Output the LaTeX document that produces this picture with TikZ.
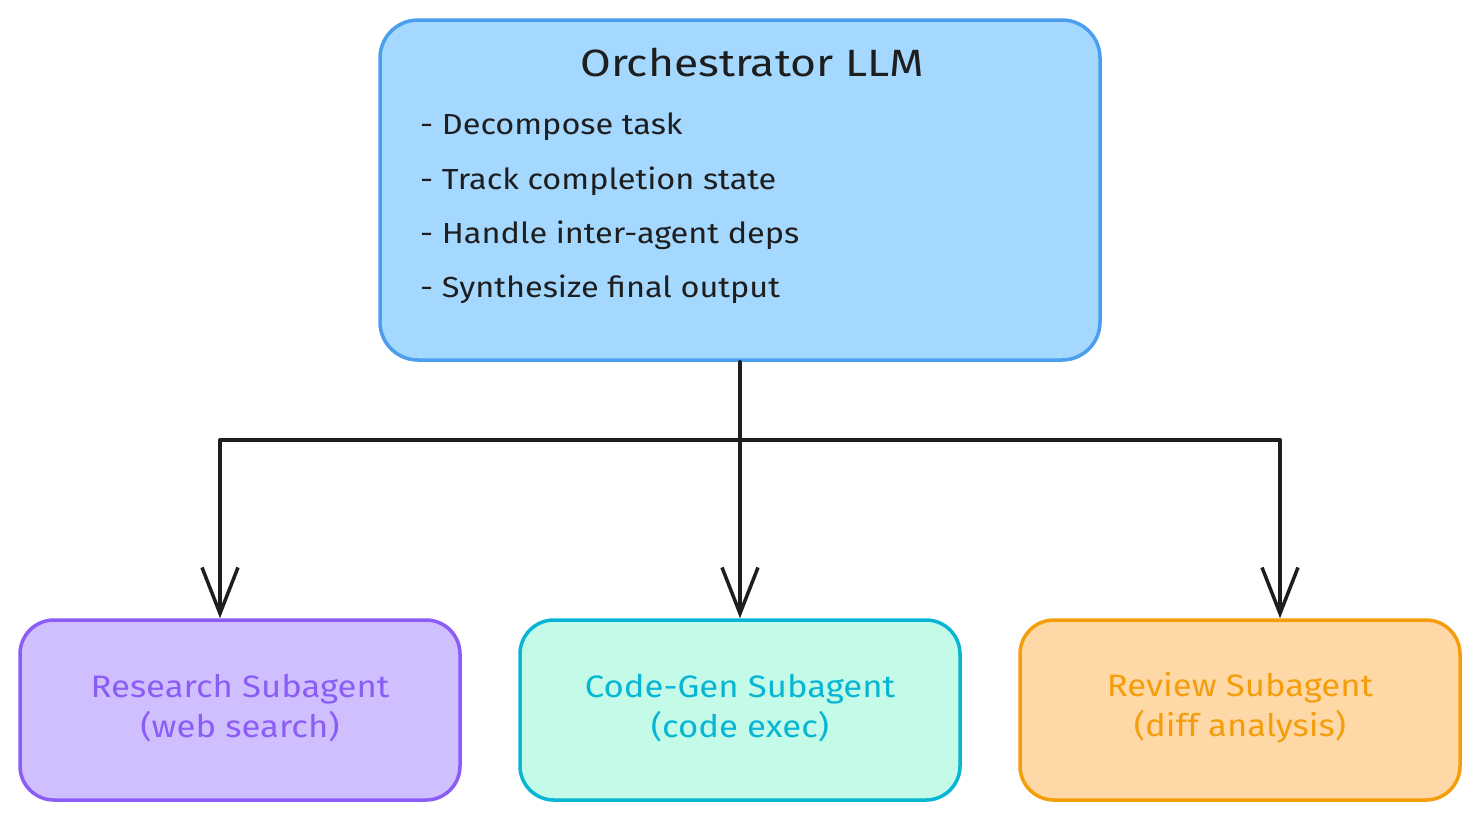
\documentclass[tikz,border=0pt]{standalone}
\usepackage{fontspec}
\setmainfont{Fira Sans}
\newfontfamily\widefont[FakeStretch=1.12]{Fira Sans}
\newfontfamily\titlefont[FakeStretch=1.17]{Fira Sans}
\usetikzlibrary{arrows.meta}
\definecolor{orchfill}{HTML}{A5D8FF}
\definecolor{orchline}{HTML}{4A9EED}
\definecolor{resfill}{HTML}{D0BFFF}
\definecolor{resline}{HTML}{8B5CF6}
\definecolor{codefill}{HTML}{C3FAE8}
\definecolor{codeline}{HTML}{06B6D4}
\definecolor{revfill}{HTML}{FFD8A8}
\definecolor{revline}{HTML}{F59E0B}
\definecolor{ink}{HTML}{1E1E1E}
\tikzset{
  box/.style={draw, line width=3.5pt, rounded corners=38pt, inner sep=0pt},
  bigbox/.style={box, minimum width=720pt, minimum height=340pt},
  subbox/.style={box, minimum width=440pt, minimum height=180pt, rounded corners=34pt},
  titletext/.style={text=ink, font=\titlefont\fontsize{38}{44}\selectfont, inner sep=0pt},
  bullettext/.style={text=ink, font=\widefont\fontsize{29}{34}\selectfont, anchor=west, inner sep=0pt},
  subtext/.style={font=\widefont\fontsize{31}{40}\selectfont, align=center, inner sep=0pt},
  wire/.style={draw=ink, line width=3.5pt, line join=round, line cap=round},
  arrowwire/.style={wire, -{Straight Barb[length=46pt, width=36pt, line width=3.5pt]}}
}
\begin{document}
\begin{tikzpicture}[x=1pt,y=-1pt]
\useasboundingbox (0,0) rectangle (1480,820);
\fill[white] (0,0) rectangle (1480,820);

\node[bigbox, fill=orchfill, draw=orchline] (orch) at (740,190) {};
\node[titletext] (title) at (752,63) {Orchestrator LLM};
\node[bullettext] (b1) at (420,127) {- Decompose task};
\node[bullettext] (b2) at (420,181) {- Track completion state};
\node[bullettext] (b3) at (420,235) {- Handle inter-agent deps};
\node[bullettext] (b4) at (420,289) {- Synthesize final output};

\node[subbox, fill=resfill, draw=resline] (research) at (240,710) {};
\node[subtext, text=resline] (restext) at (240,708) {Research Subagent\\(web search)};

\node[subbox, fill=codefill, draw=codeline] (codegen) at (740,710) {};
\node[subtext, text=codeline] (codetext) at (740,708) {Code-Gen Subagent\\(code exec)};

\node[subbox, fill=revfill, draw=revline] (review) at (1240,710) {};
\node[subtext, text=revline] (revtext) at (1240,708) {Review Subagent\\(diff analysis)};

\coordinate (j) at (740,440);
\coordinate (jl) at (220,440);
\coordinate (jr) at (1280,440);

\draw[wire] (orch.south) -- (j);
\draw[wire] (jl) -- (jr);
\draw[arrowwire] (jl) -- (research.north -| jl);
\draw[arrowwire] (j) -- (codegen.north);
\draw[arrowwire] (jr) -- (review.north -| jr);
\end{tikzpicture}
\end{document}
